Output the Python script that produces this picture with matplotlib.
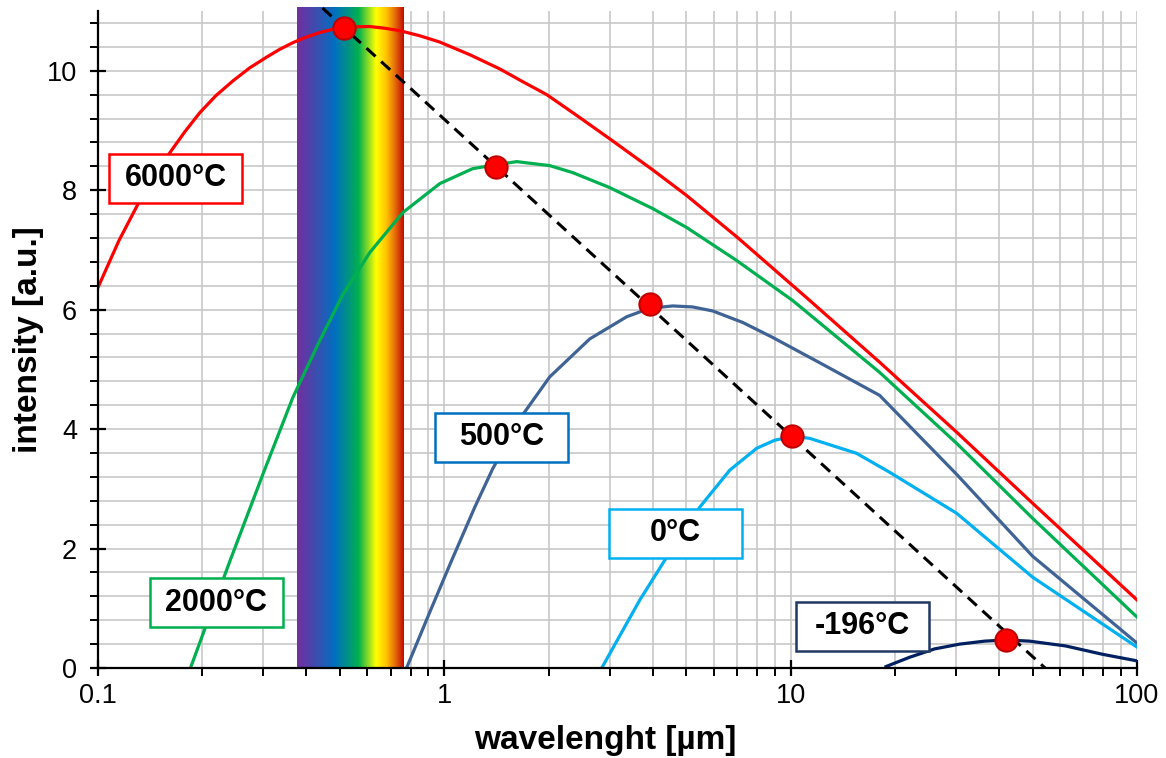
import numpy as np
import matplotlib
matplotlib.use('Agg')
import matplotlib.pyplot as plt
import matplotlib.transforms as mtransforms
from matplotlib.patches import Rectangle
from matplotlib.colors import LinearSegmentedColormap
from matplotlib.ticker import FixedLocator, NullFormatter, MultipleLocator

plt.rcParams['font.family'] = ['Liberation Sans', 'DejaVu Sans']

# Curvas (longitud de onda en um, intensidad en u.a.)
x_6000 = [0.1, 0.1150, 0.1322, 0.1460, 0.1614, 0.1783, 0.1970, 0.2190, 0.2453, 0.2746,
          0.3074, 0.3353, 0.3655, 0.3984, 0.4372, 0.4703, 0.5095, 0.5555, 0.6095, 0.6735,
          0.7441, 0.8500, 0.9705, 1.1848, 1.4466, 1.6853, 1.976, 2.429, 3.004, 3.998,
          5.011, 6.985, 11.12, 18.07, 30.14, 49.94, 100]
y_6000 = [6.37, 7.157, 7.83, 8.244, 8.63, 8.980, 9.30, 9.582, 9.83, 10.05,
          10.23, 10.36, 10.47, 10.56, 10.64, 10.686, 10.72, 10.736, 10.74, 10.711,
          10.67, 10.585, 10.48, 10.268, 10.03, 9.816, 9.60, 9.239, 8.86, 8.34,
          7.91, 7.22, 6.20, 5.12, 3.95, 2.76, 1.14]

x_2000 = [0.1850, 0.2105, 0.2404, 0.2994, 0.3655, 0.4372, 0.5095, 0.6095, 0.7590, 0.9705,
          1.2085, 1.4176, 1.6189, 2.0164, 2.3492, 3.004, 3.998, 5.011, 6.985, 10.13,
          18.07, 30.14, 49.94, 100]
y_2000 = [0.0, 0.886, 1.789, 3.244, 4.532, 5.485, 6.254, 6.957, 7.625, 8.110,
          8.361, 8.428, 8.478, 8.411, 8.294, 8.043, 7.692, 7.375, 6.823, 6.154,
          4.950, 3.763, 2.508, 0.853]

x_500 = [0.7781, 0.9081, 1.0510, 1.2246, 1.3804, 1.6853, 2.0164, 2.6303, 3.3628, 3.918,
         4.566, 5.215, 5.957, 7.269, 8.874, 12.374, 18.07, 30.14, 49.94, 100]
y_500 = [0.0, 0.936, 1.806, 2.692, 3.339, 4.242, 4.875, 5.510, 5.881, 6.023,
         6.062, 6.045, 5.978, 5.786, 5.535, 5.084, 4.565, 3.244, 1.873, 0.418]

x_0 = [2.848, 3.667, 4.387, 5.463, 6.668, 7.979, 8.991, 10.13, 11.34, 15.50, 19.31,
       30.14, 49.94, 100]
y_0 = [0.0, 1.137, 1.856, 2.692, 3.311, 3.679, 3.813, 3.880, 3.846, 3.595, 3.278,
       2.592, 1.522, 0.351]

x_m196 = [18.86, 22.05, 26.04, 30.75, 36.31, 42.02, 48.96, 62.19, 79.51, 100]
y_m196 = [0.025, 0.18, 0.32, 0.40, 0.45, 0.47, 0.45, 0.37, 0.23, 0.12]

# Maximos (ley de Wien)
pico_x = [0.513, 1.41, 3.92, 10.1, 42.0]
pico_y = [10.72, 8.38, 6.09, 3.88, 0.47]
wien_x = [0.445, 54.3]
wien_y = [11.05, 0.0]

# Espectro visible
visible = [0.375, 0.765]

etiquetas = ['6000°C', '2000°C', '500°C', '0°C', '-196°C']
etiq_x = [0.1674, 0.2197, 1.466, 4.66, 16.1]
etiq_y = [8.20, 1.09, 3.86, 2.26, 0.70]

colores = ['#FF0000', '#00B050', '#3E6394', '#00B0F0', '#002060']
bordes = ['#FF0000', '#00B050', '#0070C0', '#00B0F0', '#1F3864']

fig = plt.figure(figsize=(11.66, 7.58), dpi=100)
ax = fig.add_axes([0.084, 0.1187, 0.8911, 0.8668])
ax.set_xscale('log')

# Banda del espectro
cmap = LinearSegmentedColormap.from_list('rainbow_vis', [
    (0.0, '#7030A0'), (0.27, '#0070C0'), (0.48, '#00B050'), (0.66, '#FFFF00'),
    (0.78, '#FFC000'), (0.88, '#E46C0A'), (1.0, '#C00000')])
grad = np.linspace(0, 1, 256).reshape(1, -1)
ax.imshow(grad, cmap=cmap, aspect='auto', extent=[visible[0], visible[1], 0.02, 11.07],
          zorder=2, clip_on=False, interpolation='bilinear')

for xs, ys, c in [(x_6000, y_6000, colores[0]), (x_2000, y_2000, colores[1]),
                  (x_500, y_500, colores[2]), (x_0, y_0, colores[3]),
                  (x_m196, y_m196, colores[4])]:
    ax.plot(xs, ys, color=c, lw=2.3, zorder=3, solid_joinstyle='round')

ax.plot(wien_x, wien_y, color='black', lw=2.2, ls=(0, (4, 2.5)), zorder=4, clip_on=False)
ax.plot(pico_x, pico_y, 'o', ms=16, mfc='#FF0000', mec='#C00000', mew=1.5, zorder=5, clip_on=False)

# Etiquetas con caja de tamano fijo
for t, tx, ty, b in zip(etiquetas, etiq_x, etiq_y, bordes):
    tr = fig.dpi_scale_trans + mtransforms.ScaledTranslation(tx, ty, ax.transData)
    ax.add_patch(Rectangle((-0.665, -0.245), 1.33, 0.49, transform=tr, fc='white',
                           ec=b, lw=1.8, zorder=6, clip_on=False))
    ax.text(tx, ty, t, ha='center', va='center', fontsize=22, fontweight='bold', zorder=7)

ax.set_xlim(0.1, 100)
ax.set_ylim(0, 11)

ax.xaxis.set_major_locator(FixedLocator([0.1, 1, 10, 100]))
ax.set_xticklabels(['0.1', '1', '10', '100'])
minors = [m * d for d in [0.1, 1, 10] for m in range(2, 10)]
ax.xaxis.set_minor_locator(FixedLocator(minors))
ax.xaxis.set_minor_formatter(NullFormatter())
ax.yaxis.set_major_locator(MultipleLocator(2))
ax.yaxis.set_minor_locator(MultipleLocator(0.4))

ax.grid(True, which='both', color='#C8C8C8', lw=1.2, zorder=0)
ax.set_axisbelow(True)

for s in ['top', 'right']:
    ax.spines[s].set_visible(False)
for s in ['left', 'bottom']:
    ax.spines[s].set_linewidth(1.6)
    ax.spines[s].set_zorder(4)

ax.tick_params(which='major', direction='inout', length=12, width=1.6, labelsize=19.5)
ax.tick_params(which='minor', direction='out', length=6, width=1.4)
ax.tick_params(axis='y', which='major', pad=9)
ax.tick_params(axis='x', which='major', pad=5)

ax.set_xlabel('wavelenght [µm]', fontsize=24, fontweight='bold')
ax.set_ylabel('intensity [a.u.]', fontsize=24, fontweight='bold')
ax.xaxis.set_label_coords(0.488, -0.087)
ax.yaxis.set_label_coords(-0.052, 0.5)

fig.savefig('out.png', dpi=100)
